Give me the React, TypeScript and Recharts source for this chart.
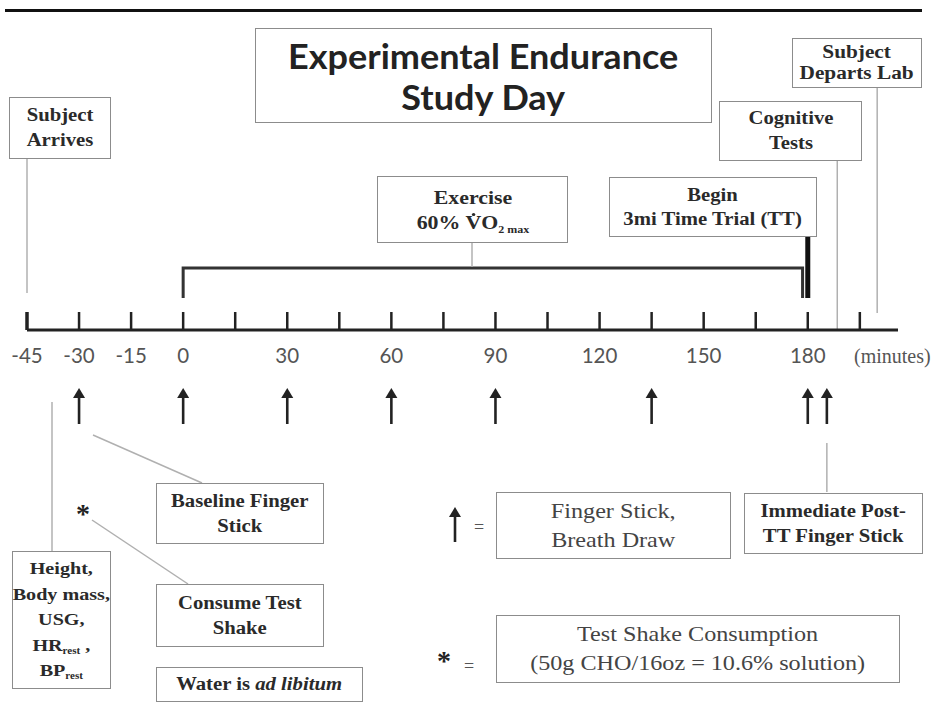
import React from 'react';
import { ComposedChart, Line, Scatter, XAxis, YAxis, ReferenceLine } from 'recharts';

// timeline, in minutes relative to the start of exercise
const TICK_MINUTES = [-45, -30, -15, 0, 15, 30, 45, 60, 75, 90, 105, 120, 135, 150, 165, 180, 195];
const LABELED_MINUTES = [-45, -30, -15, 0, 30, 60, 90, 120, 150, 180];
const SAMPLE_MINUTES = [-30, 0, 30, 60, 90, 135, 180, 185.5];
const EXERCISE_MINUTES = [0, 0, 178.5, 178.5];
const TT_START = 180;
const ARRIVE_MIN = -45;
const COGNITIVE_MIN = 188.5;
const DEPART_MIN = 200;
const POST_TT_MIN = 185.5;
const DOMAIN: [number, number] = [-45, 206];

// layout (page rows, px)
const W = 935;
const H = 708;
const TOP_H = 372;
const AXIS_H = 42;
const MARGIN = { top: 0, right: 37, bottom: 0, left: 27 };
const BRACKET_ROWS = [298, 268, 268, 298];
const ARROW_ROW = 406;

const SERIF = "'Liberation Serif', 'Times New Roman', serif";
const SANS = "Lato, 'Open Sans', sans-serif";
const LINE_GREY = '#b0b0b0';
const STRETCH = 'scaleX(1.15)';

const bracketData = EXERCISE_MINUTES.map((t, i) => ({ t, row: BRACKET_ROWS[i] }));
const sampleData = SAMPLE_MINUTES.map((t) => ({ t, row: ARROW_ROW }));

const TimeTick = (props: any) => {
  const { x, y, payload } = props;
  const v = payload.value;
  return (
    <g>
      <line x1={x} y1={y - 18} x2={x} y2={y} stroke="#222" strokeWidth={v === -45 ? 3.5 : 2.5} />
      {LABELED_MINUTES.includes(v) && (
        <text x={x} y={y + 33} textAnchor="middle" fontSize={20.5} fontFamily={SANS} fill="#555">
          {v}
        </text>
      )}
    </g>
  );
};

const UpArrow = (props: any) => {
  const { cx, cy } = props;
  return (
    <g>
      <line x1={cx} y1={cy - 10} x2={cx} y2={cy + 18} stroke="#222" strokeWidth={2.6} />
      <path d={`M${cx - 6},${cy - 8} L${cx},${cy - 18} L${cx + 6},${cy - 8} Z`} fill="#222" />
    </g>
  );
};

interface BoxProps {
  x: number;
  y: number;
  w: number;
  h: number;
  size?: number;
  lh?: number;
  bold?: boolean;
  color?: string;
  children: React.ReactNode;
}

const Box = ({ x, y, w, h, size = 18, lh = 25, bold = true, color = '#2a2a2a', children }: BoxProps) => (
  <div
    style={{
      position: 'absolute',
      left: x,
      top: y,
      width: w,
      height: h,
      boxSizing: 'border-box',
      border: '1.5px solid #8c8c8c',
      background: '#fff',
      display: 'flex',
      flexDirection: 'column',
      justifyContent: 'center',
      alignItems: 'center',
      textAlign: 'center',
      fontFamily: SERIF,
      fontWeight: bold ? 700 : 400,
      fontSize: size,
      lineHeight: `${lh}px`,
      color,
      whiteSpace: 'nowrap',
    }}
  >
    <div style={{ transform: STRETCH }}>{children}</div>
  </div>
);

const Sub = ({ children }: { children: React.ReactNode }) => (
  <span style={{ fontSize: '0.55em', verticalAlign: '-0.35em', lineHeight: 0 }}>{children}</span>
);

const Free = ({ x, y, size, color = '#222', bold = false, children }: any) => (
  <div
    style={{
      position: 'absolute',
      left: x,
      top: y,
      fontFamily: SERIF,
      fontSize: size,
      fontWeight: bold ? 700 : 400,
      color,
      lineHeight: 1,
      whiteSpace: 'nowrap',
    }}
  >
    {children}
  </div>
);

export default function App() {
  return (
    <div style={{ position: 'absolute', left: 0, top: 0, width: W, height: H, background: '#fff', overflow: 'hidden' }}>
      <div style={{ position: 'absolute', left: 5, top: 9, width: 917, height: 3, background: '#111' }} />

      <div style={{ position: 'absolute', left: 0, top: 0 }}>
        <ComposedChart width={W} height={TOP_H} margin={MARGIN} data={bracketData}>
          <XAxis
            dataKey="t"
            type="number"
            domain={DOMAIN}
            ticks={TICK_MINUTES}
            interval={0}
            allowDataOverflow
            height={AXIS_H}
            tickSize={0}
            tickMargin={0}
            tickLine={false}
            axisLine={{ stroke: '#222', strokeWidth: 3 }}
            tick={TimeTick}
          />
          <YAxis dataKey="row" type="number" domain={[0, TOP_H - AXIS_H]} reversed hide />
          <Line
            dataKey="row"
            type="linear"
            stroke="#333"
            strokeWidth={3}
            dot={false}
            isAnimationActive={false}
          />
          <ReferenceLine segment={[{ x: TT_START, y: 237 }, { x: TT_START, y: 298 }]} stroke="#111" strokeWidth={5} />
          <ReferenceLine segment={[{ x: ARRIVE_MIN, y: 159 }, { x: ARRIVE_MIN, y: 293 }]} stroke={LINE_GREY} strokeWidth={1.5} />
          <ReferenceLine segment={[{ x: COGNITIVE_MIN, y: 161 }, { x: COGNITIVE_MIN, y: 330 }]} stroke={LINE_GREY} strokeWidth={1.5} />
          <ReferenceLine segment={[{ x: DEPART_MIN, y: 88 }, { x: DEPART_MIN, y: 313 }]} stroke={LINE_GREY} strokeWidth={1.5} />
        </ComposedChart>
      </div>

      <div style={{ position: 'absolute', left: 0, top: TOP_H }}>
        <ComposedChart width={W} height={H - TOP_H} margin={MARGIN} data={sampleData}>
          <XAxis dataKey="t" type="number" domain={DOMAIN} hide allowDataOverflow />
          <YAxis dataKey="row" type="number" domain={[TOP_H, H]} reversed hide />
          <Scatter data={sampleData} shape={UpArrow} isAnimationActive={false} />
          <ReferenceLine segment={[{ x: POST_TT_MIN, y: 443 }, { x: POST_TT_MIN, y: 492 }]} stroke={LINE_GREY} strokeWidth={1.5} />
        </ComposedChart>
      </div>

      {/* box connectors */}
      <svg width={W} height={H} style={{ position: 'absolute', left: 0, top: 0, pointerEvents: 'none' }}>
        <line x1={472} y1={243} x2={472} y2={267} stroke={LINE_GREY} strokeWidth={1.5} />
        <line x1={93} y1={435} x2={202} y2={483} stroke={LINE_GREY} strokeWidth={1.5} />
        <line x1={92} y1={520} x2={188} y2={584} stroke={LINE_GREY} strokeWidth={1.5} />
        <line x1={52} y1={402} x2={52} y2={551} stroke={LINE_GREY} strokeWidth={1.5} />
      </svg>

      <div
        style={{
          position: 'absolute',
          left: 255,
          top: 28,
          width: 457,
          height: 95,
          boxSizing: 'border-box',
          border: '1.5px solid #8c8c8c',
          display: 'flex',
          flexDirection: 'column',
          justifyContent: 'center',
          alignItems: 'center',
          fontFamily: SANS,
          fontWeight: 700,
          fontSize: 34,
          lineHeight: '41px',
          color: '#222',
        }}
      >
        <div style={{ transform: 'scaleX(1.06)' }}>Experimental Endurance</div>
        <div style={{ transform: 'scaleX(1.06)' }}>Study Day</div>
      </div>

      <Box x={792} y={38} w={130} h={50} lh={21} size={18.5}>
        <div>Subject</div>
        <div>Departs Lab</div>
      </Box>
      <Box x={9} y={97} w={102} h={62}>
        <div>Subject</div>
        <div>Arrives</div>
      </Box>
      <Box x={719} y={101} w={143} h={60}>
        <div>Cognitive</div>
        <div>Tests</div>
      </Box>
      <Box x={377} y={176} w={191} h={67} size={19}>
        <div>Exercise</div>
        <div>
          60%{' '}
          <span style={{ position: 'relative' }}>
            V
            <span
              style={{
                position: 'absolute',
                left: '50%',
                top: 1,
                width: 3,
                height: 3,
                marginLeft: -1.5,
                borderRadius: 2,
                background: '#2a2a2a',
              }}
            />
          </span>
          O<Sub>2 max</Sub>
        </div>
      </Box>
      <Box x={609} y={177} w={208} h={60} size={18} lh={24}>
        <div>Begin</div>
        <div>3mi Time Trial (TT)</div>
      </Box>

      <Box x={156} y={483} w={168} h={61}>
        <div>Baseline Finger</div>
        <div>Stick</div>
      </Box>
      <Box x={156} y={584} w={168} h={63}>
        <div>Consume Test</div>
        <div>Shake</div>
      </Box>
      <Box x={156} y={667} w={207} h={35}>
        <div>
          Water is <i>ad libitum</i>
        </div>
      </Box>
      <Box x={12} y={551} w={99} h={138} lh={25.5} size={17.5}>
        <div>Height,</div>
        <div>Body mass,</div>
        <div>USG,</div>
        <div>
          HR<Sub>rest</Sub> ,
        </div>
        <div>
          BP<Sub>rest</Sub>
        </div>
      </Box>

      <Box x={496} y={492} w={235} h={67} size={21} lh={29} bold={false} color="#444">
        <div>Finger Stick,</div>
        <div>Breath Draw</div>
      </Box>
      <Box x={744} y={493} w={179} h={61}>
        <div>Immediate Post-</div>
        <div>TT Finger Stick</div>
      </Box>
      <Box x={496} y={615} w={404} h={68} size={21} lh={29} bold={false} color="#444">
        <div>Test Shake Consumption</div>
        <div>(50g CHO/16oz = 10.6% solution)</div>
      </Box>

      <Free x={76} y={500} size={28} bold>*</Free>
      <Free x={437} y={647} size={28} bold>*</Free>
      <Free x={474} y={518} size={18} color="#555">=</Free>
      <Free x={464} y={657} size={18} color="#555">=</Free>
      <svg width={20} height={40} style={{ position: 'absolute', left: 445, top: 505 }}>
        <line x1={10} y1={10} x2={10} y2={37} stroke="#222" strokeWidth={2.6} />
        <path d="M4,12 L10,2 L16,12 Z" fill="#222" />
      </svg>
      <Free x={854} y={346} size={20} color="#555">(minutes)</Free>
    </div>
  );
}
